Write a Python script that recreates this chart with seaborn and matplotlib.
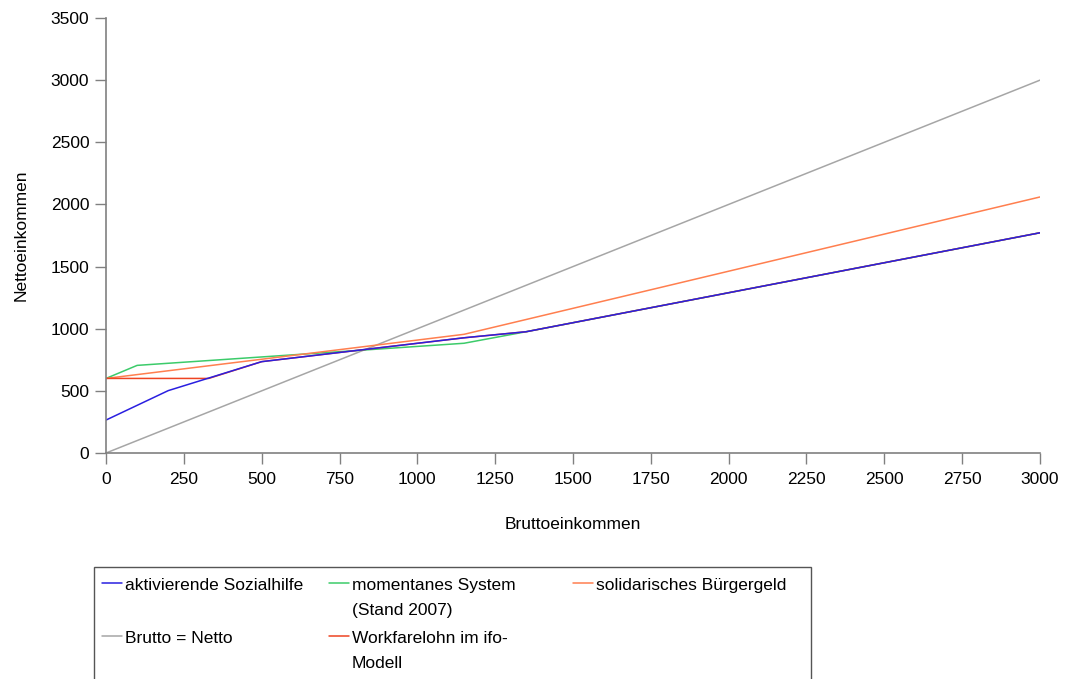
import matplotlib
matplotlib.use("Agg")
import matplotlib.pyplot as plt
from matplotlib.lines import Line2D
from matplotlib.patches import Rectangle
import seaborn as sns
import pandas as pd

# ---- data ----
aktiv_x = [0, 200, 500, 1150, 1350, 3000]
aktiv_y = [265, 502, 735, 927, 976, 1772]

moment_x = [0, 100, 1150, 1350, 3000]
moment_y = [600, 705, 883, 976, 1772]

solid_x = [0, 1150, 3000]
solid_y = [600, 955, 2060]

brutto_x = [0, 3000]
brutto_y = [0, 3000]

workfare_x = [0, 330, 500, 1150, 1350, 3000]
workfare_y = [600, 600, 735, 927, 976, 1772]

labels = {
    "aktiv": "aktivierende Sozialhilfe",
    "moment": "momentanes System\n(Stand 2007)",
    "solid": "solidarisches Bürgergeld",
    "brutto": "Brutto = Netto",
    "workfare": "Workfarelohn im ifo-\nModell",
}
colors = {
    "aktiv": "#2A1FE0",
    "moment": "#3CCB6A",
    "solid": "#FF7F4F",
    "brutto": "#A6A6A6",
    "workfare": "#EE4422",
}
x_ticks = list(range(0, 3001, 250))
y_ticks = list(range(0, 3501, 500))
x_label = "Bruttoeinkommen"
y_label = "Nettoeinkommen"

series = {
    "brutto": (brutto_x, brutto_y),
    "moment": (moment_x, moment_y),
    "solid": (solid_x, solid_y),
    "workfare": (workfare_x, workfare_y),
    "aktiv": (aktiv_x, aktiv_y),
}
frames = []
for key, (xs, ys) in series.items():
    frames.append(pd.DataFrame({"x": xs, "y": ys, "series": key}))
df = pd.concat(frames, ignore_index=True)

# ---- plot ----
sns.set_theme(style="white")
plt.rcParams["font.family"] = ["Liberation Sans", "DejaVu Sans"]
plt.rcParams["text.color"] = "black"
plt.rcParams["axes.labelcolor"] = "black"
FS = 12.5

fig = plt.figure(figsize=(10.65, 6.79), dpi=100)
ax = fig.add_axes([106 / 1065, 1 - 453 / 679, (1040 - 106) / 1065, (453 - 18) / 679])

sns.lineplot(data=df, x="x", y="y", hue="series", palette=colors,
             hue_order=list(series.keys()), estimator=None, sort=False,
             linewidth=1.1, legend=False, ax=ax)

ax.set_xlim(0, 3000)
ax.set_ylim(0, 3500)
ax.set_xticks(x_ticks)
ax.set_yticks(y_ticks)
ax.tick_params(axis="both", which="major", direction="out", length=8,
               width=1.0, color="#808080", labelsize=FS, labelcolor="black",
               bottom=True, left=True)
ax.tick_params(axis="x", pad=6)
ax.tick_params(axis="y", pad=4)
for side in ["top", "right"]:
    ax.spines[side].set_visible(False)
for side in ["left", "bottom"]:
    ax.spines[side].set_color("#808080")
    ax.spines[side].set_linewidth(1.2)
ax.grid(False)
ax.set_xlabel(x_label, fontsize=FS, labelpad=21, color="black")
ax.set_ylabel(y_label, fontsize=FS, labelpad=16, color="black")

# ---- legend (manually laid out, box runs off the bottom) ----
W, H = 1065, 679
fig.add_artist(Rectangle((94 / W, 1 - 700 / H), (811 - 94) / W, (700 - 567) / H,
                         transform=fig.transFigure, fill=False,
                         edgecolor="#555555", linewidth=1.0))
entries = [
    ("aktiv", 102, 583),
    ("moment", 329, 583),
    ("solid", 573, 583),
    ("brutto", 102, 636),
    ("workfare", 329, 636),
]
for key, hx, hy in entries:
    fig.add_artist(Line2D([hx / W, (hx + 20) / W], [1 - hy / H, 1 - hy / H],
                          transform=fig.transFigure, color=colors[key], linewidth=1.1))
    fig.text((hx + 23) / W, 1 - (hy - 5) / H, labels[key], fontsize=FS,
             va="top", ha="left", linespacing=1.85, color="black")

fig.savefig("out.png", dpi=100)
